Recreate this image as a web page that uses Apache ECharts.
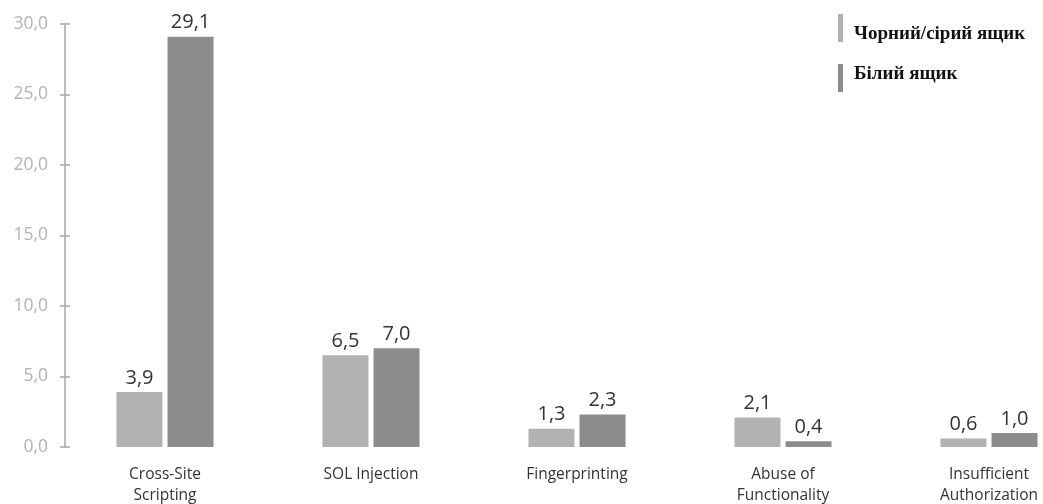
<!DOCTYPE html>
<html>
<head>
<meta charset="utf-8">
<script src="https://cdn.jsdelivr.net/npm/echarts@6/dist/echarts.min.js"></script>
<style>
  html, body { margin: 0; padding: 0; background: #fff; }
  #chart { width: 1043px; height: 504px; }
</style>
</head>
<body>
<div id="chart"></div>
<script>
// Vulnerability categories
const categories = ['Cross-Site\nScripting', 'SOL Injection', 'Fingerprinting', 'Abuse of\nFunctionality', 'Insufficient\nAuthorization'];
const seriesNames = ['Чорний/сірий ящик', 'Білий ящик'];
const blackGreyBox = [3.9, 6.5, 1.3, 2.1, 0.6];
const whiteBox = [29.1, 7.0, 2.3, 0.4, 1.0];
const yTicks = { min: 0, max: 30, interval: 5 };

const fmt = v => v.toFixed(1).replace('.', ',');
const chart = echarts.init(document.getElementById('chart'));

const barLabel = {
  show: true,
  position: 'top',
  distance: 4,
  color: '#333',
  fontFamily: 'Open Sans',
  fontSize: 20,
  formatter: p => fmt(p.value)
};

const legendFont = { fontFamily: 'Liberation Serif', fontWeight: 'bold', fontSize: 19, color: '#111' };

chart.setOption({
  animation: false,
  backgroundColor: '#fff',
  // the last category band runs past the right edge of the canvas
  grid: { left: 62, top: 24, bottom: 57, right: -49, outerBoundsMode: 'none', containLabel: false },
  legend: {
    orient: 'vertical',
    left: 833,
    top: 9,
    itemWidth: 5,
    itemHeight: 28,
    itemGap: 20,
    icon: 'rect',
    // first label sits a little below its swatch, the second a little above
    formatter: name => (name === seriesNames[0] ? '{lo|' : '{hi|') + name + '}',
    textStyle: Object.assign({
      padding: [0, 0, 0, 6],
      rich: {
        lo: Object.assign({ lineHeight: 32, verticalAlign: 'bottom' }, legendFont),
        hi: Object.assign({ lineHeight: 26, verticalAlign: 'top' }, legendFont)
      }
    }, legendFont),
    data: seriesNames
  },
  xAxis: {
    type: 'category',
    data: categories,
    axisLine: { show: false },
    axisTick: { show: false },
    axisLabel: { color: '#333', fontFamily: 'Open Sans', fontSize: 15.5, margin: 17, lineHeight: 21 }
  },
  yAxis: [{
    type: 'value',
    min: yTicks.min, max: yTicks.max, interval: yTicks.interval,
    offset: -3,
    axisLine: { show: true, lineStyle: { color: '#a6a6a6', width: 1.5 } },
    axisTick: { show: true, length: 5, lineStyle: { color: '#a6a6a6', width: 1.5 } },
    splitLine: { show: false },
    axisLabel: { color: '#b3b3b3', fontFamily: 'Open Sans', fontSize: 17.5, margin: 17, formatter: v => fmt(v) }
  }, {
    // inner half of the tick marks so they cross the axis line
    type: 'value',
    position: 'left',
    min: yTicks.min, max: yTicks.max, interval: yTicks.interval,
    offset: -3,
    axisLine: { show: false },
    axisTick: { show: true, inside: true, length: 5, lineStyle: { color: '#a6a6a6', width: 1.5 } },
    axisLabel: { show: false },
    splitLine: { show: false }
  }],
  series: [{
    name: seriesNames[0],
    type: 'bar',
    data: blackGreyBox,
    barWidth: 46,
    barGap: '11%',
    itemStyle: { color: '#b2b2b2' },
    label: barLabel
  }, {
    name: seriesNames[1],
    type: 'bar',
    data: whiteBox,
    barWidth: 46,
    itemStyle: { color: '#8c8c8c' },
    label: barLabel
  }]
});
</script>
</body>
</html>
